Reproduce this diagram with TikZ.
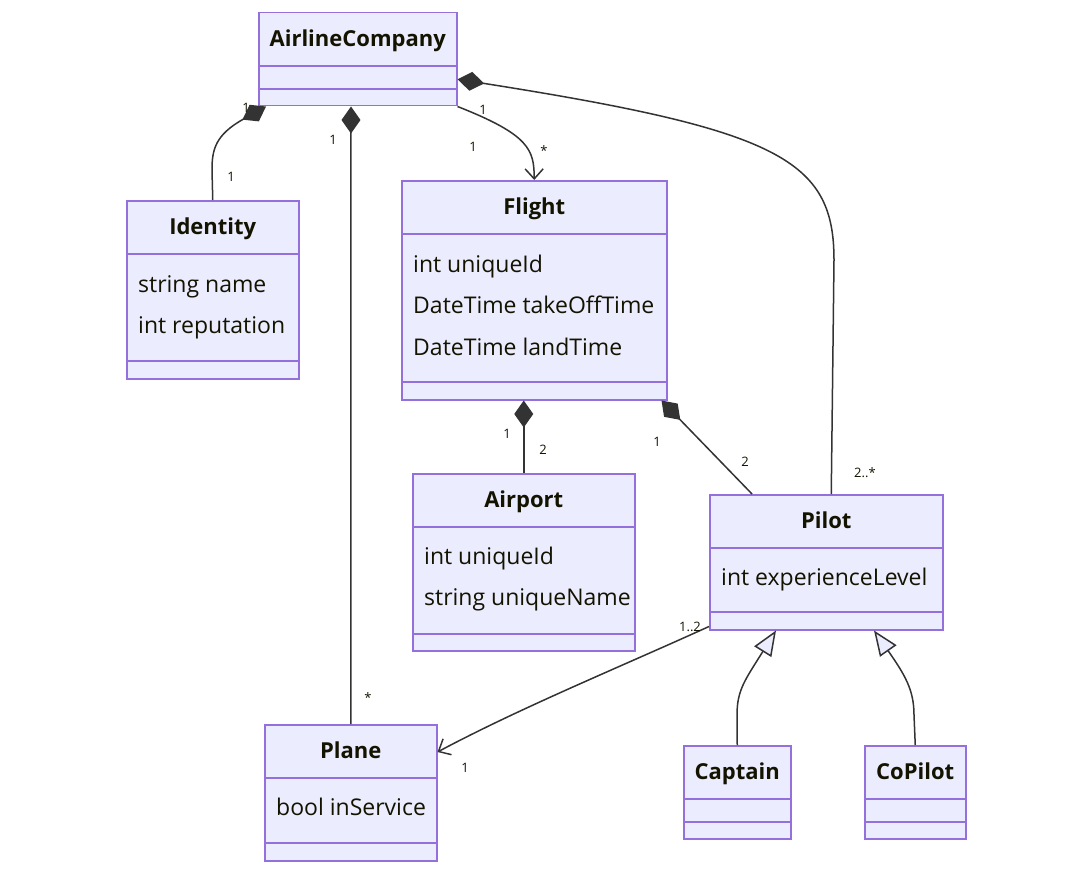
\documentclass[tikz,border=0pt]{standalone}
\usepackage{fontspec}
\setmainfont{Open Sans}
\usetikzlibrary{calc}
\usetikzlibrary{arrows.meta}
\usetikzlibrary{positioning}

\definecolor{classfill}{HTML}{ECECFF}
\definecolor{classline}{HTML}{9370DB}
\definecolor{edgeline}{HTML}{333333}
\definecolor{txt}{HTML}{131300}

\tikzset{
  classbox/.style={draw=classline, fill=classfill, line width=1.5pt, rectangle, inner sep=0pt, anchor=north west},
  classsep/.style={draw=classline, line width=1.5pt},
  ctitle/.style={font=\fontsize{22}{26}\selectfont\bfseries, text=txt, inner sep=0pt, text height=16pt, text depth=5pt},
  cattr/.style={font=\fontsize{23}{27}\selectfont, text=txt, anchor=west, inner sep=0pt, text height=16pt, text depth=5pt},
  mult/.style={font=\fontsize{13}{15}\selectfont, text=txt, inner sep=0pt},
  link/.style={draw=edgeline, line width=1.5pt},
  comp/.style={link, {Diamond[length=27pt,width=19pt,fill=edgeline]}-},
  assoc/.style={link, -{Straight Barb[length=10pt,width=18pt,line width=1.5pt]}},
  inherit/.style={link, {Triangle[open,length=25pt,width=20pt,fill=classfill,line width=1.5pt]}-},
}

% box, title and the two rules of one class
\newcommand{\umlclass}[7]{%
  \node[classbox, minimum width=#4pt, minimum height=#5pt] (#1) at (#2,#3) {};
  \node[ctitle] (#1-title) at ($(#1.north)+(0,29)$) {#6};
  \draw[classsep] ($(#1.north west)+(0,54)$) -- ($(#1.north east)+(0,54)$);
  \draw[classsep] ($(#1.north west)+(0,#7)$) -- ($(#1.north east)+(0,#7)$);
}

\begin{document}
\begin{tikzpicture}[x=1pt, y=-1pt]
\useasboundingbox (0,0) rectangle (1092,872);

\umlclass{company}{258}{12}{198}{93}{AirlineCompany}{77}
\umlclass{identity}{126}{200}{172}{178}{Identity}{161}
\umlclass{flight}{401}{180}{265}{219}{Flight}{202}
\umlclass{airport}{412}{473}{222}{177}{Airport}{161}
\umlclass{pilot}{709}{494}{233}{135}{Pilot}{118}
\umlclass{plane}{264}{724}{172}{136}{Plane}{119}
\umlclass{captain}{683}{745}{107}{93}{Captain}{77}
\umlclass{copilot}{864}{745}{101}{93}{CoPilot}{77}

% attributes
\foreach \txt [count=\i] in {string name, int reputation}
  \node[cattr] (identity-a\i) at ($(identity.north west)+(12,{45+41.5*\i})$) {\txt};
\foreach \txt [count=\i] in {int uniqueId, DateTime takeOffTime, DateTime landTime}
  \node[cattr] (flight-a\i) at ($(flight.north west)+(12,{45+41.5*\i})$) {\txt};
\foreach \txt [count=\i] in {int uniqueId, string uniqueName}
  \node[cattr] (airport-a\i) at ($(airport.north west)+(12,{44+41.5*\i})$) {\txt};
\node[cattr] (pilot-a1) at ($(pilot.north west)+(12,86)$) {int experienceLevel};
\node[cattr] (plane-a1) at ($(plane.north west)+(12,86)$) {bool inService};

% relations
\draw[comp] ($(company.south west)+(8,0)$) .. controls (215,135) and (212,150) .. (212,170) -- (identity.north);
\draw[comp] ($(company.south west)+(93,0)$) -- (plane.north);
\draw[assoc] (company.south east) .. controls (530,135) and (534,150) .. (flight.north);
\draw[comp] ($(company.east)+(0,20)$) .. controls (780,130) and (834,160) .. (834,260) -- ($(pilot.north)+(5,0)$);
\draw[comp] (flight.south -| airport.north) -- (airport.north);
\draw[comp] ($(flight.south east)+(-6,0)$) -- ($(pilot.north west)+(43,0)$);
\draw[assoc] ($(pilot.south west)+(0,-4)$) .. controls (620,667) and (520,708) .. ($(plane.north east)+(0,28)$);
\draw[inherit] ($(pilot.south west)+(67,0)$) .. controls (745,680) and (737,690) .. (737,715) -- (captain.north);
\draw[inherit] ($(pilot.south west)+(165,0)$) .. controls (905,675) and (914,690) .. (914,715) -- (copilot.north);

% multiplicities
\node[mult] (m-ci1) at (246,108) {1};
\node[mult] (m-ci2) at (231,177) {1};
\node[mult] (m-cp1) at (333,140) {1};
\node[mult] (m-cp2) at (368,698) {*};
\node[mult] (m-cf1) at (483,110) {1};
\node[mult] (m-cf2) at (473,147) {1};
\node[mult] (m-cf3) at (544,151) {*};
\node[mult] (m-fa1) at (507,434) {1};
\node[mult] (m-fa2) at (543,450) {2};
\node[mult] (m-fp1) at (657,442) {1};
\node[mult] (m-fp2) at (745,462) {2};
\node[mult] (m-cpl) at (865,473) {2..*};
\node[mult] (m-pp1) at (690,627) {1..2};
\node[mult] (m-pp2) at (465,768) {1};
\end{tikzpicture}
\end{document}
